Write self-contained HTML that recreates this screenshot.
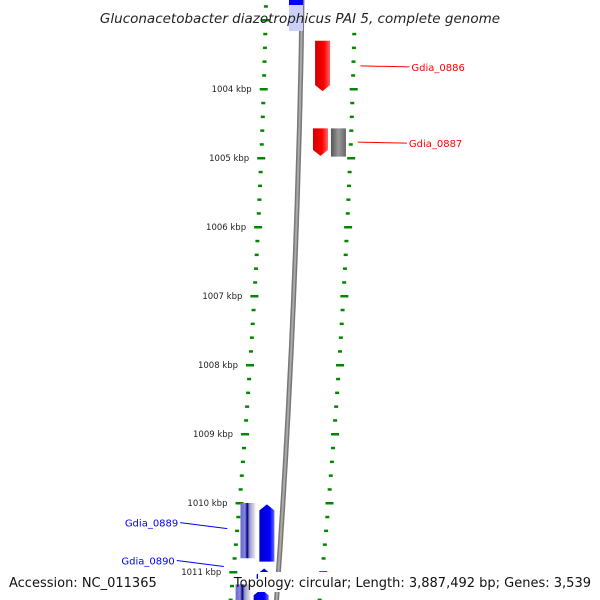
<!DOCTYPE html>
<html><head><meta charset="utf-8"><style>
html,body{margin:0;padding:0;background:#fff;}
svg{display:block;font-family:"DejaVu Sans","Liberation Sans",sans-serif;}
</style></head><body>
<svg id="c" width="600" height="600" viewBox="0 0 600 600">
<defs>
<linearGradient id="gray" x1="0" x2="1"><stop offset="0" stop-color="#555"/><stop offset="0.5" stop-color="#999"/><stop offset="1" stop-color="#666"/></linearGradient>
<linearGradient id="red" x1="0" x2="1"><stop offset="0" stop-color="#c00"/><stop offset="0.6" stop-color="#f00"/><stop offset="1" stop-color="#f66"/></linearGradient>
<linearGradient id="blue" x1="0" x2="1"><stop offset="0" stop-color="#00c"/><stop offset="0.7" stop-color="#00f"/><stop offset="1" stop-color="#66f"/></linearGradient>
<linearGradient id="stripe" x1="0" x2="1"><stop offset="0" stop-color="#66c"/><stop offset="0.3" stop-color="#88d"/><stop offset="0.45" stop-color="#008"/><stop offset="0.6" stop-color="#99c"/><stop offset="1" stop-color="#eee"/></linearGradient>
</defs>
<g id="plot"></g>
<text x="300" y="23" text-anchor="middle" font-size="13.5" font-style="italic" fill="#222">Gluconacetobacter diazotrophicus PAI 5, complete genome</text>
<rect x="5" y="572" width="145" height="20" fill="#fff"/>
<text x="9" y="587" font-size="13" fill="#111">Accession: NC_011365</text>
<rect x="258" y="572" width="338" height="20" fill="#fff"/>
<text x="591" y="587" text-anchor="end" font-size="13" fill="#111">Topology: circular; Length: 3,887,492 bp; Genes: 3,539</text>
</svg>
<script>
const kbpTicks=[1004,1005,1006,1007,1008,1009,1010,1011];
const genesStart=[1003.3,1004.57,1004.57,1010,1010.02,1010.95,1011.18,1011.25];
const genesEnd=[1004.03,1004.97,1004.98,1010.8,1010.85,1011.1,1011.5,1011.5];
const genesLane=[50,50.6,68.6,1,20,23,3.5,22];
const genesKind=["red","red","gray","stripe","blue","blue","stripe","blue"];
const genesDir=[1,1,0,0,-1,-1,0,-1];
const labelNames=["Gdia_0886","Gdia_0887","Gdia_0889","Gdia_0890"];
const labelGene=[0,1,3,5];

const g=document.getElementById('plot');
const NS='http://www.w3.org/2000/svg';
const yS=k=>89+(k-1004)*69;
const bend=y=>-(0.02*y+0.000065*y*y);
const leftX=y=>266+bend(y), rightX=y=>355+bend(y), axisX=y=>302+0.72*bend(y);
function mk(t,a,p){const e=document.createElementNS(NS,t);for(const k in a)e.setAttribute(k,a[k]);(p||g).appendChild(e);return e;}

let d='';for(let y=-5;y<=605;y+=10){d+=(y<0?'M':'L')+axisX(y).toFixed(1)+' '+y;}
const bb=mk('path',{d:d,stroke:'#777','stroke-width':5,fill:'none'});


const bb2=mk('path',{d:d,stroke:'#aaa','stroke-width':2,fill:'none'});



const tb=mk('rect',{x:axisX(0)-13,y:0,width:14,height:5,fill:'#00f'});


const tl=mk('rect',{x:axisX(0)-13,y:5,width:14,height:26,fill:'#ccd0f8'});



for(let k=1002.8;k<=1011.6;k+=0.2){
  const kk=Math.round(k*5)/5;const y=yS(kk);const major=Math.abs(kk-Math.round(kk))<0.01;
  [leftX,rightX].forEach((f,i)=>{
    if(i==1&&y<30)return;
    const w=major?8:4;const e=mk('rect',{x:f(y)-w/2+(i==1&&major?1:0),y:y-1,width:w,height:2.5,fill:'#080'});
    
    
  });
}
kbpTicks.forEach(k=>{const y=yS(k);
  const t=mk('text',{x:leftX(y)-12,y:y+3,'text-anchor':'end','font-size':8.5,fill:'#222'});
  t.textContent=k+' kbp';
  
  
});

genesStart.forEach((s,i)=>{
  const y0=yS(s),y1=yS(genesEnd[i]);const x=leftX(y0)+genesLane[i];const w=15,a=6;
  let p;
  if(genesDir[i]==1)p=`M${x} ${y0}L${x+w} ${y0}L${x+w} ${y1-a}L${x+w/2} ${y1}L${x} ${y1-a}Z`;
  else if(genesDir[i]==-1)p=`M${x} ${y1}L${x+w} ${y1}L${x+w} ${y0+a}L${x+w/2} ${y0}L${x} ${y0+a}Z`;
  else p=`M${x} ${y0}L${x+w} ${y0}L${x+w} ${y1}L${x} ${y1}Z`;
  const e=mk('path',{d:p,fill:'url(#'+genesKind[i]+')'});
  
  
});

labelNames.forEach((n,j)=>{
  const i=labelGene[j];
  const red=genesKind[i]=='red';const col=red?'#f00':'#00f';
  let l,t;
  if(red){const ym=(yS(genesStart[i])+yS(genesEnd[i]))/2;const x0=rightX(ym)+7;
    l=mk('line',{x1:x0,y1:ym,x2:x0+49,y2:ym+1,stroke:col,'stroke-width':1});
    t=mk('text',{x:x0+51,y:ym+5,'font-size':10,fill:col});}
  else{const yy=(j==3?yS(genesStart[i])-2:(yS(genesStart[i])+yS(genesEnd[i]))/2-2);const x1=leftX(yy)-10;
    l=mk('line',{x1:x1-47,y1:yy-6,x2:x1,y2:yy,stroke:col,'stroke-width':1});
    t=mk('text',{x:x1-49,y:yy-2,'text-anchor':'end','font-size':10,fill:col});}
  t.textContent=n;
  
  
  
  
});
</script>
</body></html>
